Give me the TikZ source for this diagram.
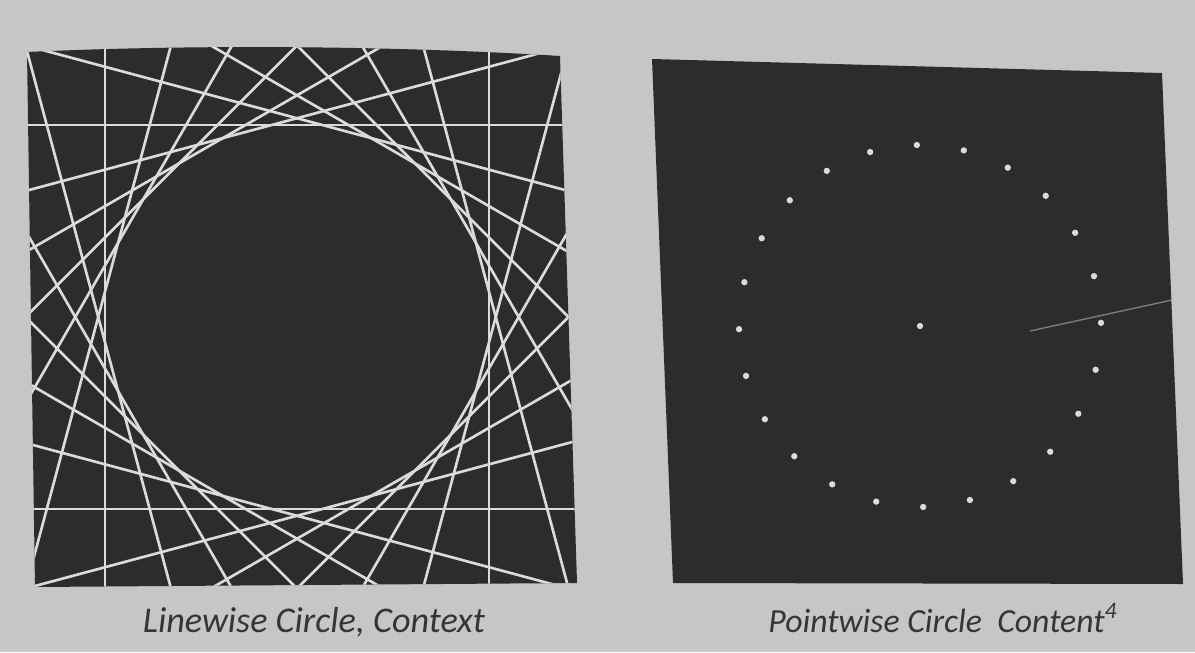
\documentclass[tikz,border=0pt]{standalone}
\usepackage{fontspec}
\setmainfont{Carlito}
\usetikzlibrary{calc}
\definecolor{paper}{HTML}{C6C6C4}
\definecolor{board}{HTML}{2C2C2E}
\definecolor{chalk}{HTML}{DCDCD6}
\definecolor{ink}{HTML}{34343C}

\begin{document}
\begin{tikzpicture}[x=0.02cm,y=-0.02cm,
    tline/.style={chalk,line width=1.5pt},
    dot/.style={circle,fill=chalk,inner sep=0pt,minimum size=3.6pt},
    caption/.style={ink,font=\itshape\fontsize{20.6}{22}\selectfont,anchor=base}]
  \fill[paper] (0,0) rectangle (1195,652);
  \useasboundingbox (0,0) rectangle (1195,652);

  % linewise circle: tangents around an empty disc
  \coordinate (lc) at (297,317);
  \fill[board] (27,52) .. controls (200,44) and (400,46) .. (560,56)
    -- (577,583) -- (35,587) -- cycle;
  \begin{scope}
    \clip (27,52) .. controls (200,44) and (400,46) .. (560,56)
      -- (577,583) -- (35,587) -- cycle;
    \foreach \a in {0,15,...,345}
      \draw[tline] ($(lc)+(\a:192)+(\a+90:700)$) -- ($(lc)+(\a:192)+(\a-90:700)$);
  \end{scope}

  % pointwise circle: dots only
  \coordinate (pc) at (920,326);
  \fill[board] (652,59) -- (1162,73) -- (1183,584) -- (673,583) -- cycle;
  \foreach \k in {0,...,23}
    \node[dot] (d\k) at ($(pc)+(-91+15*\k:181)$) {};
  \node[dot] (dc) at (pc) {};
  \draw[chalk,opacity=0.45,line width=0.8pt] (1030,331) -- (1172,300);

  \node[caption] (capl) at (314,632) {Linewise Circle, Context};
  \node[caption,font=\itshape\fontsize{19.2}{22}\selectfont] (capr) at (943,632)
    {Pointwise Circle\ \ Content\textsuperscript{4}};
\end{tikzpicture}
\end{document}
